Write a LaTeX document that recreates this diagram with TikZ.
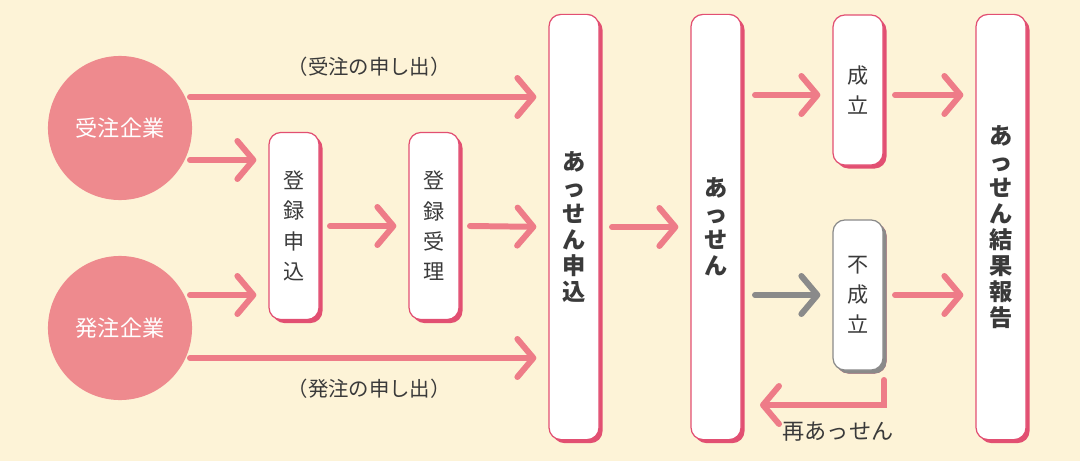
\documentclass[tikz,border=0pt]{standalone}
\usepackage{fontspec}
\setmainfont{Noto Sans CJK JP}
\usetikzlibrary{arrows.meta,shadows}
\definecolor{bgcol}{HTML}{FDF3D7}
\definecolor{circcol}{HTML}{EE8A8E}
\definecolor{arrcol}{HTML}{EE7C88}
\definecolor{rimcol}{HTML}{E24F72}
\definecolor{greycol}{HTML}{8A8A8A}
\definecolor{txtcol}{HTML}{3A3A3A}
\tikzset{
  flowbox/.style={draw=rimcol,line width=0.35pt,fill=white,rounded corners=1.2mm,
    minimum width=0.5cm,text width=0.3cm,align=center,inner sep=0pt,text=txtcol,
    font=\fontsize{6}{8.6}\selectfont,
    general shadow={fill=rimcol,shadow xshift=0.035cm,shadow yshift=-0.035cm}},
  greybox/.style={flowbox,draw=greycol,general shadow={fill=greycol,shadow xshift=0.035cm,shadow yshift=-0.035cm}},
  boldbox/.style={flowbox,font=\fontsize{6.6}{7.4}\selectfont\bfseries},
  firm/.style={circle,fill=circcol,minimum size=1.44cm,inner sep=0pt,text=white,
    font=\fontsize{6.3}{7}\selectfont},
  flow/.style={draw=arrcol,line width=1.7pt,line cap=round,shorten >=0.12cm,
    -{Straight Barb[length=1.6mm,width=3.8mm,line cap=round,line join=round]}},
  greyflow/.style={flow,draw=greycol},
  note/.style={text=txtcol,font=\fontsize{5.8}{7}\selectfont}
}
\begin{document}
\begin{tikzpicture}[x=0.01cm,y=-0.01cm]
  \fill[bgcol] (0,0) rectangle (1080,461);
  % firms
  \node[firm] (juchu) at (120,128) {受注企業};
  \node[firm] (hatchu) at (120,328) {発注企業};
  % boxes
  \node[flowbox,minimum height=1.87cm] (toroku) at (294,226) {登\\録\\申\\込};
  \node[flowbox,minimum height=1.87cm] (juri) at (434,226) {登\\録\\受\\理};
  \node[boldbox,minimum height=4.25cm] (moshi) at (574,227) {あ\\っ\\せ\\ん\\申\\込};
  \node[boldbox,minimum height=4.25cm] (assen) at (716,227) {あ\\っ\\せ\\ん};
  \node[flowbox,minimum height=1.5cm] (seiritsu) at (858,90) {成\\立};
  \node[greybox,minimum height=1.5cm] (fusei) at (858,295) {不\\成\\立};
  \node[boldbox,minimum height=4.25cm] (hokoku) at (1001,227) {あ\\っ\\せ\\ん\\結\\果\\報\\告};
  % connectors
  \coordinate (j1) at (190,97);
  \coordinate (h1) at (190,358);
  \draw[flow] (j1) -- (moshi.west |- 0,97) node[note,midway,above=0.06cm] {（受注の申し出）};
  \draw[flow] (h1) -- (moshi.west |- 0,358) node[note,midway,below=0.06cm] {（発注の申し出）};
  \draw[flow] (190,160) -- (toroku.west |- 0,160);
  \draw[flow] (190,295) -- (toroku.west |- 0,295);
  \draw[flow] (toroku) ++(36,0) -- (juri.west);
  \draw[flow] (juri) ++(36,0) -- (moshi.west);
  \draw[flow] (moshi) ++(38,0) -- (assen.west);
  \draw[flow] (755,95) -- (seiritsu.west |- 0,95);
  \draw[greyflow] (755,295) -- (fusei.west);
  \draw[flow] (895,95) -- (hokoku.west |- 0,95);
  \draw[flow] (895,295) -- (hokoku.west |- 0,295);
  \coordinate (re) at (760,405);
  \draw[flow,shorten >=0pt] (884,380) -- (884,405) -- (re);
  \node[note,font=\fontsize{6.3}{7}\selectfont] (sai) at (838,432) {再あっせん};
\end{tikzpicture}
\end{document}
